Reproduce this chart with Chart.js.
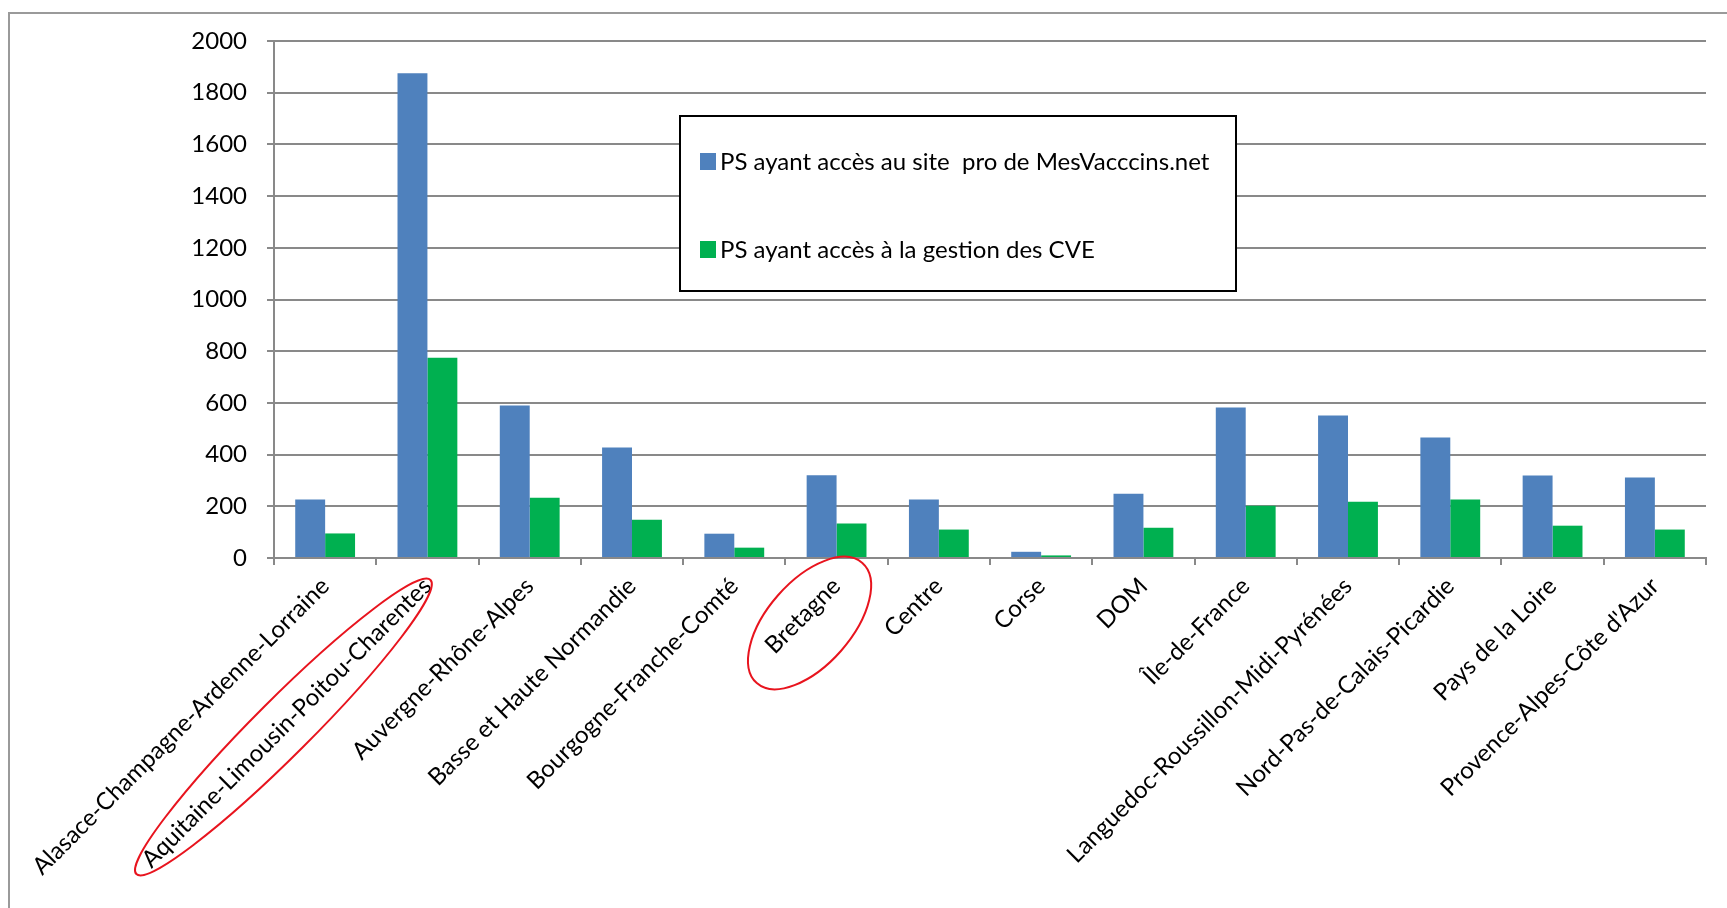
<!DOCTYPE html>
<html><head><meta charset="utf-8">
<script src="https://cdn.jsdelivr.net/npm/chart.js@4/dist/chart.umd.min.js"></script>
<style>html,body{margin:0;padding:0;background:#fff;overflow:hidden;}</style>
</head><body>
<canvas id="c" width="1727" height="908" style="display:block;width:1727px;height:908px"></canvas>
<script>
const categories = ["Alasace-Champagne-Ardenne-Lorraine","Aquitaine-Limousin-Poitou-Charentes","Auvergne-Rhône-Alpes","Basse et Haute Normandie","Bourgogne-Franche-Comté","Bretagne","Centre","Corse","DOM","Île-de-France","Languedoc-Roussillon-Midi-Pyrénées","Nord-Pas-de-Calais-Picardie","Pays de la Loire","Provence-Alpes-Côte d'Azur"];
const seriesNames = ["PS ayant accès au site  pro de MesVacccins.net","PS ayant accès à la gestion des CVE"];
const psSitePro = [226,1875,590,427,94,320,226,24,249,582,551,466,319,311];
const psGestionCVE = [95,775,233,148,40,133,110,10,117,202,218,226,125,110];
const yTickValues = [0,200,400,600,800,1000,1200,1400,1600,1800,2000];
const seriesColors = ["#4F81BD","#00B050"];
const highlighted = [1,5];

const FONT = "Lato";
const GRID = "#898989";

const framePlugin = {
  id:"frame",
  beforeDraw(chart){
    const ctx = chart.ctx;
    ctx.save();
    ctx.fillStyle="#fff"; ctx.fillRect(0,0,chart.width,chart.height);
    ctx.strokeStyle="#9a9a9a"; ctx.lineWidth=2;
    ctx.strokeRect(9,13,chart.width+50,chart.height+50);
    ctx.restore();
  }
};

const legendPlugin = {
  id:"boxLegend",
  afterDraw(chart){
    const ctx = chart.ctx;
    ctx.save();
    const bx=680, by=116, bw=556, bh=175;
    ctx.fillStyle="#fff"; ctx.fillRect(bx,by,bw,bh);
    ctx.strokeStyle="#000"; ctx.lineWidth=2; ctx.strokeRect(bx,by,bw,bh);
    ctx.font = "24px " + FONT;
    ctx.textBaseline="middle"; ctx.textAlign="left";
    chart.data.datasets.forEach((ds,i)=>{
      const cy = by + 46 + i*88;
      ctx.fillStyle = ds.backgroundColor;
      ctx.fillRect(bx+20, cy-9, 16, 17);
      ctx.fillStyle="#000";
      ctx.fillText(ds.label, bx+40, cy);
    });
    // annotation ellipses around highlighted categories
    const xs = chart.scales.x, bottom = chart.chartArea.bottom;
    ctx.strokeStyle="#E8141E"; ctx.lineWidth=2;
    const e1x = xs.getPixelForValue(highlighted[0]);
    ctx.beginPath(); ctx.ellipse(e1x-144, bottom+169, 208, 28, -Math.PI/4, 0, Math.PI*2); ctx.stroke();
    const e2x = xs.getPixelForValue(highlighted[1]);
    ctx.beginPath(); ctx.ellipse(e2x-27, bottom+65, 80, 42, -0.85, 0, Math.PI*2); ctx.stroke();
    ctx.restore();
  }
};

function draw(){
  new Chart(document.getElementById("c"), {
    type:"bar",
    data:{
      labels:categories,
      datasets:[
        {label:seriesNames[0], data:psSitePro, backgroundColor:seriesColors[0], categoryPercentage:0.585, barPercentage:1.0},
        {label:seriesNames[1], data:psGestionCVE, backgroundColor:seriesColors[1], categoryPercentage:0.585, barPercentage:1.0}
      ]
    },
    options:{
      responsive:false, animation:false, devicePixelRatio:1,
      layout:{padding:{top:41,right:21,left:0,bottom:0}},
      plugins:{legend:{display:false}, tooltip:{enabled:false}},
      scales:{
        y:{
          min:0,max:2000,
          afterBuildTicks(s){ s.ticks = yTickValues.map(v=>({value:v})); },
          afterFit(s){ s.width = 274; },
          ticks:{color:"#000", font:{family:FONT,size:24}, padding:20, callback:(v)=>String(v)},
          grid:{color:GRID, lineWidth:2, tickLength:7, drawTicks:true},
          border:{color:GRID, width:2}
        },
        x:{
          afterFit(s){ s.height = 350; s.paddingLeft = 0; s.paddingRight = 0; },
          ticks:{color:"#000", font:{family:FONT,size:24}, minRotation:45, maxRotation:45, autoSkip:false, padding:7},
          grid:{drawOnChartArea:false, drawTicks:true, tickLength:7, color:GRID, lineWidth:2, offset:true},
          border:{color:GRID, width:2}
        }
      }
    },
    plugins:[framePlugin, legendPlugin]
  });
}
if (document.fonts && document.fonts.load) {
  document.fonts.load("24px " + FONT).then(draw, draw);
} else draw();
</script>
</body></html>
